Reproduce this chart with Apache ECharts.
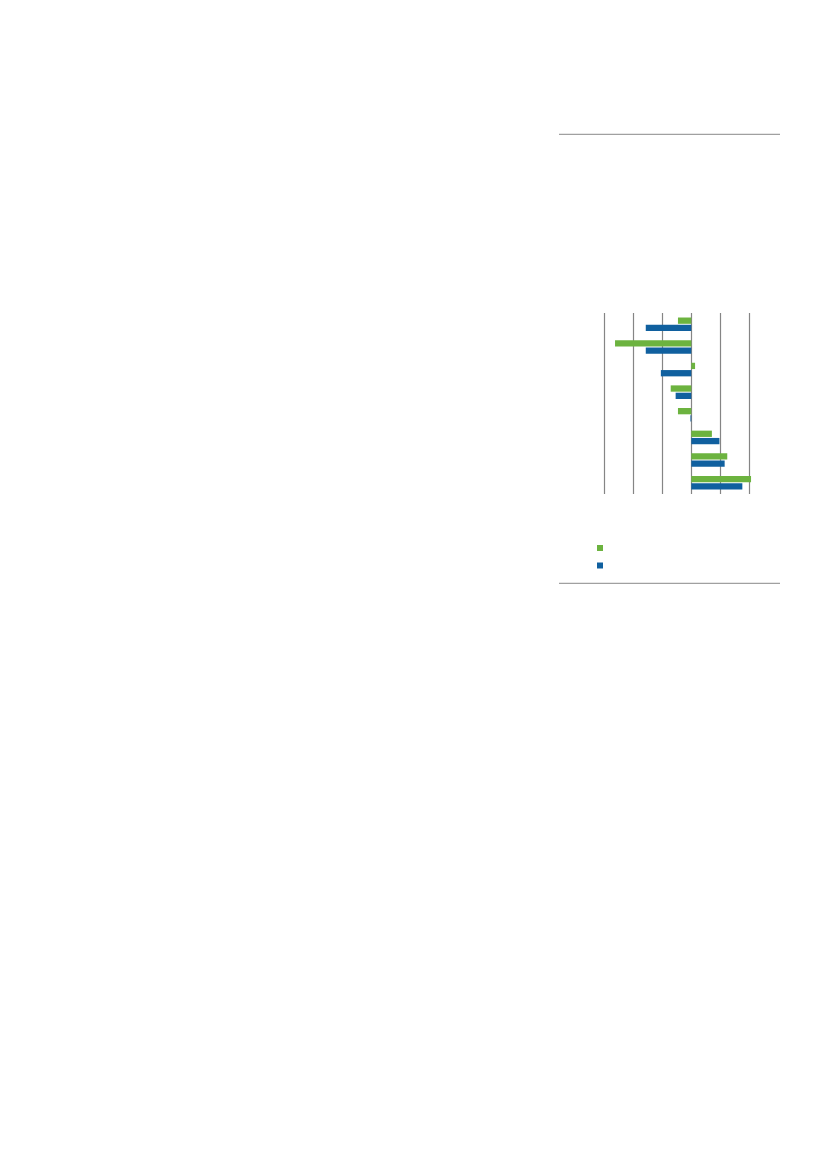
<!DOCTYPE html>
<html>
<head>
<meta charset="utf-8">
<script src="https://cdn.jsdelivr.net/npm/echarts@6/dist/echarts.min.js"></script>
<style>
html,body{margin:0;padding:0;background:#fff;}
#chart{width:827px;height:1169px;}
</style>
</head>
<body>
<div id="chart"></div>
<script>
const categories = ['1', '2', '3', '4', '5', '6', '7', '8'];
const greenValues = [-4.6, -26.3, 1.3, -7.1, -4.6, 7.1, 12.4, 20.6];
const blueValues = [-15.7, -15.7, -10.5, -5.4, -0.3, 9.7, 11.5, 17.6];
const xTicks = [-30, -20, -10, 0, 10, 20];

const chart = echarts.init(document.getElementById('chart'), null, {renderer: 'canvas'});
chart.setOption({
  animation: false,
  backgroundColor: '#ffffff',
  grid: {left: 604.3, right: 77.7, top: 313, bottom: 675},
  xAxis: {
    type: 'value',
    min: xTicks[0],
    max: xTicks[xTicks.length - 1],
    interval: 10,
    axisLine: {show: false},
    axisTick: {show: false},
    axisLabel: {show: false},
    splitLine: {show: true, lineStyle: {color: '#858585', width: 1.2}}
  },
  yAxis: {
    type: 'category',
    data: categories,
    inverse: true,
    axisLine: {show: false},
    axisTick: {show: false},
    axisLabel: {show: false},
    splitLine: {show: false}
  },
  legend: {
    orient: 'vertical',
    left: 597,
    top: 545,
    padding: 0,
    itemWidth: 6,
    itemHeight: 6,
    itemGap: 11.5,
    icon: 'rect',
    formatter: function () { return ''; },
    textStyle: {fontSize: 1, color: 'rgba(0,0,0,0)'},
    data: ['green', 'blue']
  },
  series: [
    {
      name: 'green',
      type: 'bar',
      data: greenValues,
      barWidth: 6.3,
      barGap: '16%',
      clip: false,
      itemStyle: {color: '#6cb33f'}
    },
    {
      name: 'blue',
      type: 'bar',
      data: blueValues,
      barWidth: 6.3,
      barGap: '16%',
      clip: false,
      itemStyle: {color: '#10609f'}
    }
  ],
  graphic: [
    {type: 'line', shape: {x1: 559, y1: 134.3, x2: 780, y2: 134.3}, style: {stroke: '#a0a0a0', lineWidth: 1.2}},
    {type: 'line', shape: {x1: 559, y1: 583.3, x2: 780, y2: 583.3}, style: {stroke: '#a0a0a0', lineWidth: 1.2}}
  ]
});
</script>
</body>
</html>
